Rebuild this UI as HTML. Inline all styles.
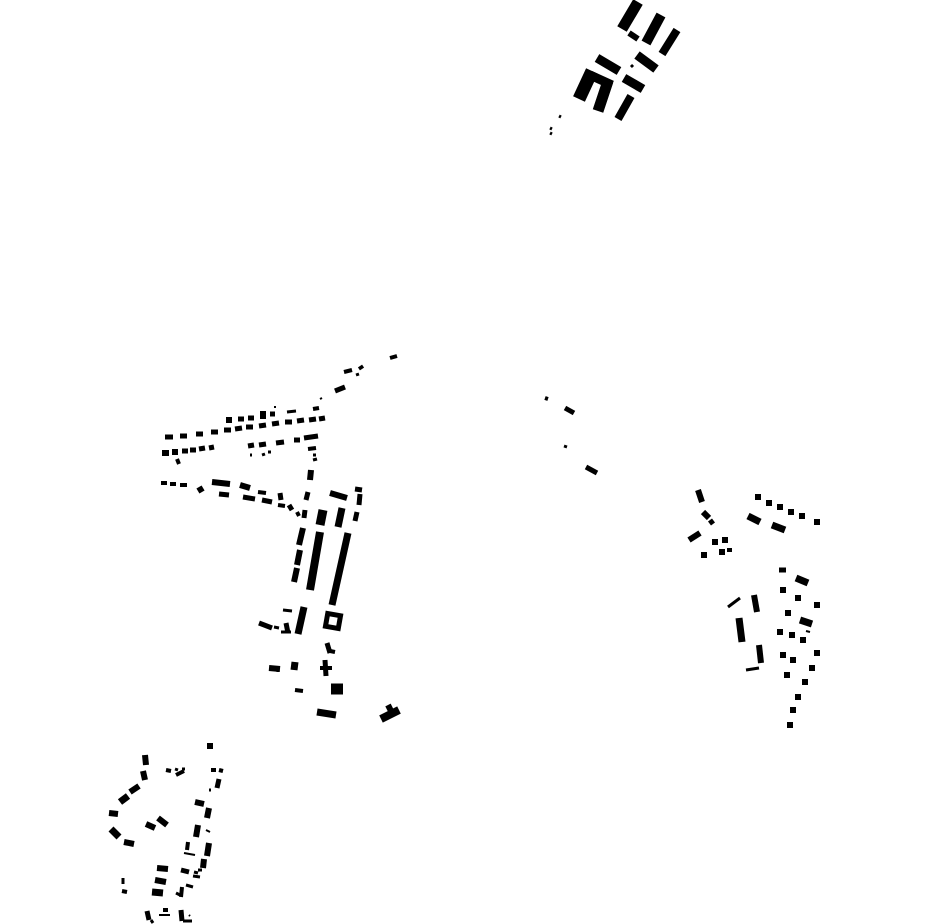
<!DOCTYPE html>
<html><head><meta charset="utf-8"><style>html,body{margin:0;padding:0;background:#fff}svg{display:block}</style></head>
<body>
<svg id="s" width="930" height="924" viewBox="0 0 930 924" xmlns="http://www.w3.org/2000/svg">
<rect x="0" y="0" width="930" height="924" fill="#fff"/>
<g fill="none" stroke="none">
<rect x="324" y="612" width="18" height="18" transform="rotate(10 333 621)" fill="#000"/>
<rect x="329" y="617" width="8" height="8" transform="rotate(10 333 621)" fill="#fff"/>
</g>
<g id="g" stroke="#000" stroke-linecap="butt"></g>
</svg>
<script>
var L=[
// top cluster
[638,2,622,29,11],[629,33,638,39,6],[661,15,646,43,10],[677,30,662,54,8],[597,58,619,71,9],[637,55,656,69,9],[631,65,633,67,3],
[624,78,643,89,9],[592,71,579,99,13],[590,75,612,85,9],[608,81,598,111,11],[631,96,618,119,8],[559,116,561,117,3],[550,128,552,129,3],[550,133,552,134,3],
// central west isolated
[390,358,397,356,4],[344,372,352,370,4],[360,366,362,369,5],[356,375,359,374,3],[335,391,345,387,5],
// row top
[226,420,232,420,6],[238,419,244,419,5],[248,418,254,418,5],[263,411,263,419,6],[270,414,275,414,5],[274,407,276,407,2],[287,412,296,411,3],[313,409,319,408,4],[320,399,322,398,2],
// main row
[165,437,173,437,5],[180,436,187,436,5],[196,434,203,434,5],[211,432,218,432,5],[224,430,231,430,5],[235,429,242,428,5],[246,427,253,427,5],[259,426,266,425,5],[272,424,279,423,5],[285,422,292,422,5],[297,421,304,420,5],[309,420,316,419,5],[319,419,325,418,5],
// row3
[162,453,169,453,6],[172,452,178,452,6],[182,451,188,451,5],[190,450,196,450,5],[199,449,205,448,5],[209,448,214,447,5],[177,459,179,464,4],
[248,446,254,445,5],[259,445,266,444,5],[276,443,284,442,5],[294,440,300,440,5],[304,438,318,436,5],[250,455,252,455,3],[262,455,265,454,3],[268,452,271,452,3],[308,449,316,448,4],[313,455,316,455,3],[313,460,317,459,3],
// row4
[161,483,167,483,4],[170,484,176,484,4],[180,485,187,485,4],[199,487,202,492,6],[212,482,230,484,6],[219,494,229,495,5],[240,485,250,488,6],[243,497,255,499,5],[258,492,266,493,4],[262,500,272,502,5],[280,493,281,500,5],[278,505,285,506,4],[289,505,292,510,5],[297,512,299,516,4],
// vertical column
[311,470,310,480,6],[308,492,306,500,5],[305,510,304,518,5],
[323,510,320,525,9],[342,508,338,527,7],[330,493,347,498,6],[355,489,362,490,5],[360,494,359,505,5],[357,512,355,521,5],
[320,532,310,590,8],[303,528,299,545,6],[300,550,297,565,6],[297,568,294,582,6],[348,533,332,605,7],[341,560,340,565,3],
[304,607,298,634,7],[259,623,272,628,5],[274,627,279,628,3],[283,610,292,611,3],[286,623,288,633,5],[281,632,291,632,3],
[327,643,330,653,5],[330,651,335,652,4],[325,660,326,676,5],[320,668,332,668,4],[269,668,280,669,6],[278,668,278,672,3],[295,662,294,670,7],
[331,689,343,689,11],[295,690,303,691,4],[317,712,336,715,7],[381,719,399,710,8],[388,705,392,713,6],
// center isolated
[545,398,548,399,4],[565,408,574,413,5],[564,446,567,447,3],[586,467,597,473,5],
// east cluster
[698,490,702,502,6],[703,512,709,518,6],[710,520,713,524,5],[689,540,700,533,6],[712,542,718,542,6],[722,540,728,540,6],[719,552,725,552,6],[727,550,732,550,4],[701,555,707,555,6],
[755,497,761,497,6],[766,503,772,503,6],[777,507,783,507,6],[788,512,794,512,6],[799,516,805,516,6],[814,522,820,522,6],
[748,516,760,522,7],[772,525,785,530,7],
[779,570,786,570,5],[796,578,808,583,7],[780,590,786,590,6],[795,598,801,598,6],[814,605,820,605,6],[785,613,791,613,6],[800,620,812,624,7],[806,631,810,632,2],
[777,632,783,632,6],[789,635,795,635,6],[800,640,806,640,6],[814,653,820,653,6],[780,655,786,655,6],[790,660,796,660,6],[809,668,815,668,6],[784,675,790,675,6],[802,682,808,682,6],[795,697,801,697,6],[790,710,796,710,6],[787,725,793,725,6],
[728,607,740,598,3],[754,595,757,612,6],[739,618,742,642,7],[759,645,761,663,6],[746,670,759,668,3],
// southwest cluster
[207,746,213,746,6],[145,755,146,765,6],[143,771,145,780,6],[166,770,171,771,4],[175,769,178,770,3],[182,769,185,769,3],[176,775,184,771,4],
[211,770,216,770,4],[219,770,223,771,4],[219,779,217,788,5],[209,790,211,790,3],
[130,792,139,786,6],[120,802,128,796,7],[109,813,118,814,6],[195,802,204,804,6],[209,808,207,818,6],
[146,824,155,828,6],[158,818,167,825,6],[111,829,119,837,7],[124,842,134,844,6],
[198,825,196,837,6],[206,830,210,832,2],[209,843,207,856,6],[188,842,187,850,4],[184,853,195,855,2],[204,859,203,868,6],[194,872,198,873,3],
[157,868,168,869,6],[155,880,166,882,6],[152,892,163,893,7],[181,870,189,872,5],[193,876,200,877,3],[198,870,202,870,3],
[182,887,181,897,4],[186,885,193,887,3],[123,878,123,884,3],[122,891,127,892,4],[176,893,180,895,3],
[147,911,149,920,5],[151,920,153,923,3],[163,910,168,910,4],[159,915,170,915,2],[181,910,182,921,5],[183,921,192,921,3],[189,915,190,916,2]
];
var g=document.getElementById('g'),h='';
L.forEach(function(a){h+='<line x1="'+a[0]+'" y1="'+a[1]+'" x2="'+a[2]+'" y2="'+a[3]+'" stroke-width="'+a[4]+'"/>';});
g.innerHTML=h;
</script>
</body></html>
